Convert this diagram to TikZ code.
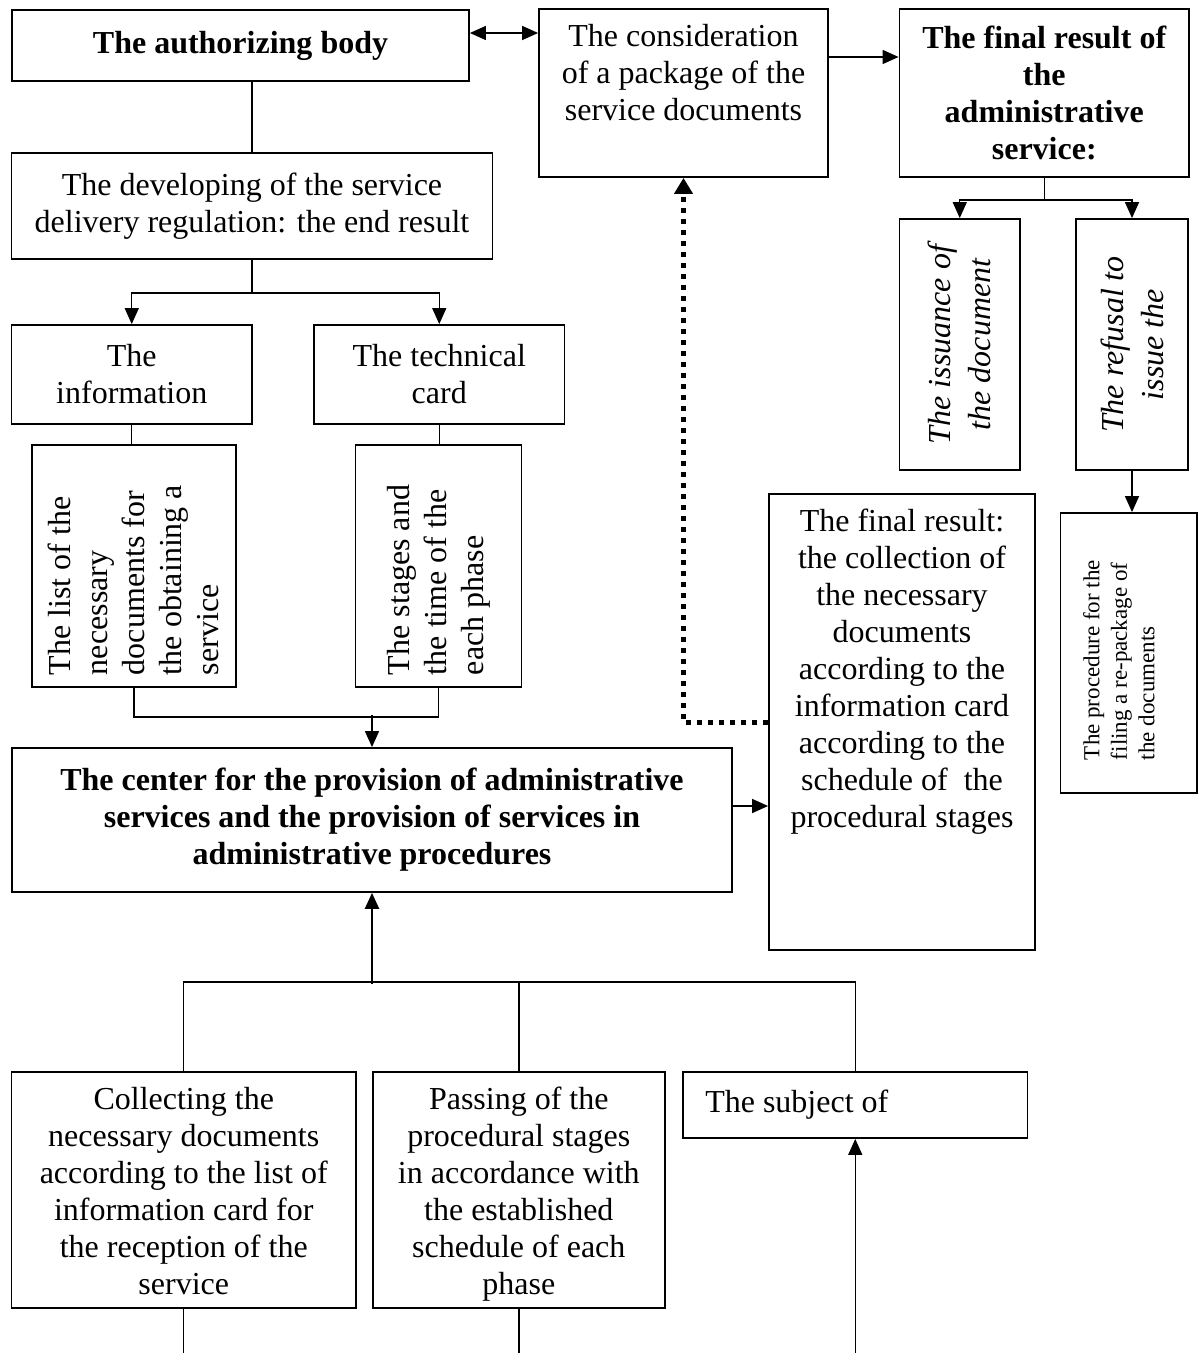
\documentclass[tikz,border=0pt]{standalone}
\usepackage{fontspec}
\setmainfont{Liberation Serif}
\usepackage{graphicx}
\usetikzlibrary{arrows.meta}

\begin{document}
\begin{tikzpicture}[
  x=0.5pt, y=-0.5pt,
  font=\fontsize{16}{18.5}\selectfont,
  box/.style={draw, line width=0.9pt, inner sep=0pt, align=center},
  topbox/.style={box, inner ysep=7.5pt},
  boldbox/.style={box, font=\fontsize{16}{18.5}\selectfont\bfseries},
  link/.style={line width=0.7pt},
  flow/.style={link, -{Triangle[length=8pt,width=7pt]}},
  both/.style={link, {Triangle[length=8pt,width=7pt]}-{Triangle[length=8pt,width=7pt]}},
  dots/.style={line width=2.5pt, dash pattern=on 2.5pt off 3pt,
               -{Triangle[length=8pt,width=9pt]}}
]
\useasboundingbox (0,0) rectangle (1200,1353);

% upper row
\node[boldbox, minimum width=228.5pt, minimum height=35.5pt] (auth) at (240.5,45.5) {The authorizing body};
\node[topbox, minimum width=144.5pt, minimum height=84pt] (consid) at (683.5,93)
  {\parbox[c][69pt][t]{140pt}{\centering The consideration\\ of a package of the\\ service documents}};
\node[boldbox, minimum width=144.75pt, minimum height=84pt] (final) at (1044.25,93)
  {The final result of\\ the\\ administrative\\ service:};
\draw[both] (auth.east |- 0,33) -- (consid.west |- 0,33);
\draw[flow] (consid.east |- 0,57) -- (final.west |- 0,57);

% regulation branch
\node[box, minimum width=240.5pt, minimum height=53pt] (dev) at (252,206)
  {The developing of the service\\ delivery regulation: the end result};
\node[box, minimum width=120.25pt, minimum height=49.5pt] (info) at (131.75,374.5) {The\\ information};
\node[box, minimum width=125.25pt, minimum height=49.5pt] (tech) at (439.25,374.5) {The technical\\ card};
\node[box, minimum width=102.2pt, minimum height=121pt] (list) at (133.8,566)
  {\rotatebox{90}{\parbox{109pt}{\raggedright The list of the\\ necessary\\ documents for\\ the obtaining a\\ service}}};
\node[box, minimum width=83pt, minimum height=121pt] (stages) at (438.5,566)
  {\rotatebox{90}{\parbox{109pt}{\raggedright The stages and\\ the time of the\\ each phase}}};
\draw[link] (dev.north |- auth.south) -- (dev.north);
\draw[flow] (dev.south) -- ++(0,33) -| (info.north);
\draw[flow] (dev.south) -- ++(0,33) -| (tech.north);
\draw[link] (info.south) -- (info.south |- list.north);
\draw[link] (tech.south) -- (tech.south |- stages.north);
\draw[link] (list.south) -- ++(0,29) -| (stages.south);

% results of the service
\node[box, minimum width=60.25pt, minimum height=125.5pt, font=\fontsize{16}{20}\selectfont\itshape] (issue) at (959.75,344.5)
  {\rotatebox{90}{\parbox{120pt}{\centering The issuance of\\ the document}}};
\node[box, minimum width=56pt, minimum height=125.5pt, font=\fontsize{16}{20}\selectfont\itshape] (refuse) at (1132,344.5)
  {\rotatebox{90}{\parbox{120pt}{\centering The refusal to\\ issue the}}};
\node[box, minimum width=68.25pt, minimum height=140pt, font=\fontsize{11.5}{13.75}\selectfont] (proc) at (1128.75,653)
  {\rotatebox{90}{\parbox{107pt}{\raggedright The procedure for the\\ filing a re-package of\\ the documents}}\hspace{10pt}};
\draw[flow] (final.south) -- ++(0,22) -| (issue.north);
\draw[flow] (final.south) -- ++(0,22) -| (refuse.north);
\draw[flow] (refuse.south) -- (refuse.south |- proc.north);

% centre of services
\node[boldbox, minimum width=360pt, minimum height=72pt] (cnap) at (372,820)
  {The center for the provision of administrative\\ services and the provision of services in\\ administrative procedures};
\node[topbox, minimum width=133pt, minimum height=228pt] (coll) at (902,722)
  {\parbox[c][213pt][t]{128pt}{\centering The final result:\\ the collection of\\ the necessary\\ documents\\ according to the\\ information card\\ according to the\\ schedule of\ \ the\\ procedural stages}};
\draw[flow] ([yshift=16pt]cnap.north) -- (cnap.north);
\draw[flow] ([yshift=7pt]cnap.east) -- ([yshift=7pt]cnap.east -| coll.west);
\draw[dots] (coll.west) -| (consid.south);

% lower row
\node[topbox, minimum width=172.25pt, minimum height=118pt] (collect) at (183.75,1190)
  {\parbox[c][103pt][t]{168pt}{\centering Collecting the\\ necessary documents\\ according to the list of\\ information card for\\ the reception of the\\ service}};
\node[topbox, minimum width=146.2pt, minimum height=118pt] (passing) at (518.8,1190)
  {\parbox[c][103pt][t]{142pt}{\centering Passing of the\\ procedural stages\\ in accordance with\\ the established\\ schedule of each\\ phase}};
\node[box, inner xsep=11pt, minimum width=172.25pt, minimum height=33pt] (subject) at (855.25,1105)
  {\parbox{150pt}{The subject of}};
\draw[flow, line width=1.2pt] ([yshift=-45.5pt]cnap.south) -- (cnap.south);
\draw[link] (collect.north) -- ++(0,-89) -| (subject.north);
\draw[link] (passing.north) -- ++(0,-89);

\coordinate (out1) at (183.75,1353);
\coordinate (out2) at (518.8,1353);
\coordinate (in3) at (855.25,1353);
\draw[link] (collect.south) -- (out1);
\draw[link] (passing.south) -- (out2);
\draw[flow] (in3) -- (subject.south);
\end{tikzpicture}
\end{document}
